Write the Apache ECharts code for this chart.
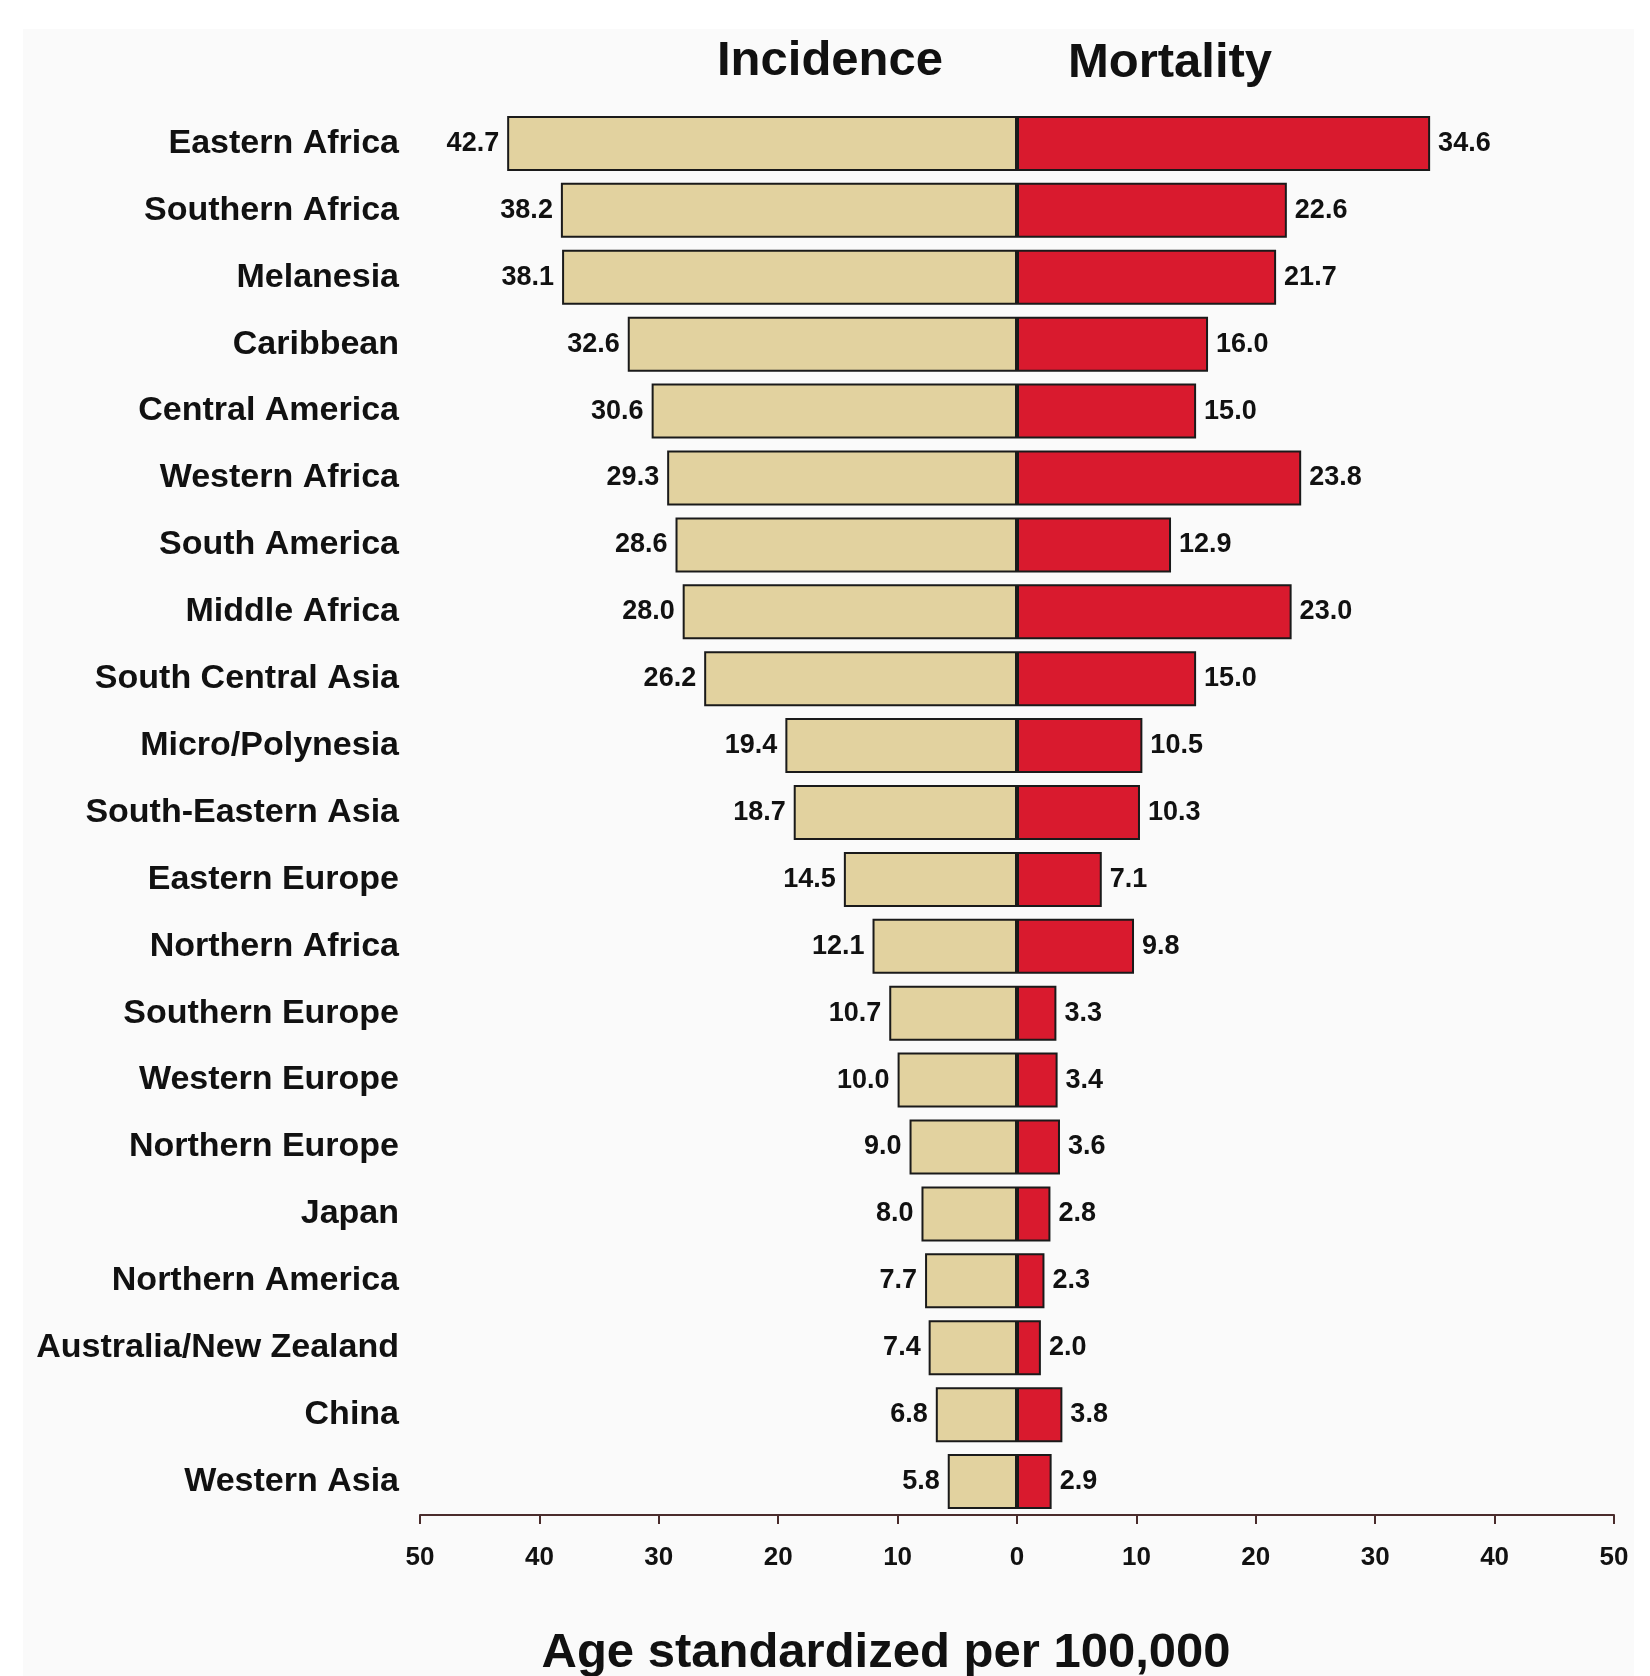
<!DOCTYPE html>
<html>
<head>
<meta charset="utf-8">
<script src="https://cdn.jsdelivr.net/npm/echarts@6/dist/echarts.min.js"></script>
<style>
html,body{margin:0;padding:0;background:#ffffff;}
#chart{width:1650px;height:1676px;}
</style>
</head>
<body>
<div id="chart"></div>
<script>
const categories = ["Eastern Africa","Southern Africa","Melanesia","Caribbean","Central America","Western Africa","South America","Middle Africa","South Central Asia","Micro/Polynesia","South-Eastern Asia","Eastern Europe","Northern Africa","Southern Europe","Western Europe","Northern Europe","Japan","Northern America","Australia/New Zealand","China","Western Asia"];
const incidence = [42.7,38.2,38.1,32.6,30.6,29.3,28.6,28.0,26.2,19.4,18.7,14.5,12.1,10.7,10.0,9.0,8.0,7.7,7.4,6.8,5.8];
const mortality = [34.6,22.6,21.7,16.0,15.0,23.8,12.9,23.0,15.0,10.5,10.3,7.1,9.8,3.3,3.4,3.6,2.8,2.3,2.0,3.8,2.9];
const xTicks = [-50,-40,-30,-20,-10,0,10,20,30,40,50];

const FONT = "'Liberation Sans', Arial, Helvetica, sans-serif";
const chart = echarts.init(document.getElementById('chart'));
chart.setOption({
  backgroundColor: '#ffffff',
  animation: false,
  graphic: [
    {type:'rect', z:-10, shape:{x:23,y:29,width:1611,height:1647}, style:{fill:'#fafafa'}},
    {type:'text', style:{x:830,y:61,text:'Incidence',textAlign:'center',textVerticalAlign:'middle',font:"bold 49px "+FONT,fill:'#111'}},
    {type:'text', style:{x:1170,y:63,text:'Mortality',textAlign:'center',textVerticalAlign:'middle',font:"bold 49px "+FONT,fill:'#111'}},
    {type:'text', style:{x:886,y:1653,text:'Age standardized per 100,000',textAlign:'center',textVerticalAlign:'middle',font:"bold 49px "+FONT,fill:'#111'}}
  ],
  grid: {left:420, right:36, top:110, bottom:161, containLabel:false},
  xAxis: {
    type:'value', min:xTicks[0], max:xTicks[xTicks.length-1], interval:10,
    splitLine:{show:false},
    axisLine:{show:true, lineStyle:{color:'#4a2c2c', width:2}},
    axisTick:{show:true, length:9, lineStyle:{color:'#4a2c2c', width:2}},
    axisLabel:{margin:30, fontFamily:FONT, fontWeight:'bold', fontSize:26, color:'#111',
      formatter: v => String(Math.abs(v))}
  },
  yAxis: {
    type:'category', data:categories, inverse:true,
    axisLine:{show:false}, axisTick:{show:false},
    axisLabel:{margin:21, fontFamily:FONT, fontWeight:'bold', fontSize:34, color:'#111'}
  },
  series: [
    {
      name:'Incidence', type:'bar', barWidth:55, barGap:'-100%',
      data: incidence.map(v => -v),
      itemStyle:{color:'#e2d29f', borderColor:'#1a1a1a', borderWidth:2},
      label:{show:true, position:'left', distance:8, fontFamily:FONT, fontWeight:'bold', fontSize:27, color:'#111',
        formatter: p => Math.abs(p.value).toFixed(1)}
    },
    {
      name:'Mortality', type:'bar', barWidth:55, barGap:'-100%',
      data: mortality,
      itemStyle:{color:'#d91a2e', borderColor:'#1a1a1a', borderWidth:2},
      label:{show:true, position:'right', distance:8, fontFamily:FONT, fontWeight:'bold', fontSize:27, color:'#111',
        formatter: p => p.value.toFixed(1)}
    }
  ]
});
</script>
</body>
</html>
